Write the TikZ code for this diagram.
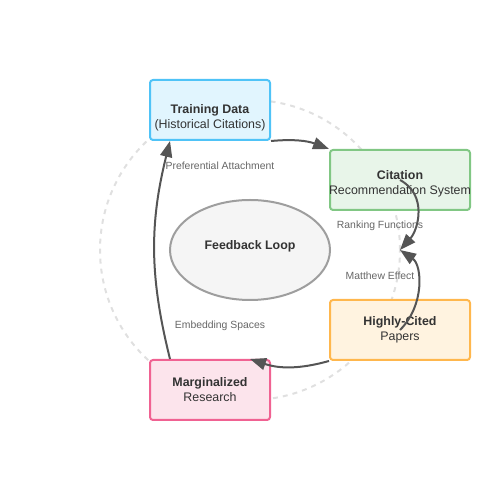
\documentclass[tikz,border=0pt]{standalone}
\usepackage{fontspec}
\setmainfont{Liberation Sans}
\usetikzlibrary{arrows.meta,shapes.geometric}
\definecolor{textdark}{HTML}{333333}
\definecolor{notegray}{HTML}{666666}
\definecolor{flowgray}{HTML}{555555}
\definecolor{ringgray}{HTML}{E0E0E0}
\definecolor{loopfill}{HTML}{F5F5F5}
\definecolor{loopdraw}{HTML}{9E9E9E}
\definecolor{trainfill}{HTML}{E1F5FE}
\definecolor{traindraw}{HTML}{4FC3F7}
\definecolor{citefill}{HTML}{E8F5E9}
\definecolor{citedraw}{HTML}{81C784}
\definecolor{papersfill}{HTML}{FFF3E0}
\definecolor{papersdraw}{HTML}{FFB74D}
\definecolor{margfill}{HTML}{FCE4EC}
\definecolor{margdraw}{HTML}{F06292}
\begin{document}
\begin{tikzpicture}[
        x=1pt, y=1pt,
        stage/.style={draw, rounded corners=3pt, line width=2pt, minimum width=120pt, minimum height=60pt},
        stagetext/.style={inner sep=0pt, align=center, text=textdark, font=\fontsize{12.4}{15}\selectfont},
        loop/.style={draw=loopdraw, fill=loopfill, ellipse, line width=2pt, minimum width=160pt,
            minimum height=100pt},
        flow/.style={-{Triangle[length=16pt,width=12pt]}, line width=2pt, draw=flowgray},
        note/.style={text=notegray, font=\fontsize{10.4}{12}\selectfont}
    ]
        \useasboundingbox (0,0) rectangle (500,500);
        % Background ring
        \draw[ringgray, line width=2pt, dash pattern=on 5pt off 5pt] (250,250) circle (150);
        % Feedback cycle stages
        \foreach \name/\pos/\boxw/\drop/\headline/\subline in {
            train/{210,390}/120/8/Training Data/(Historical Citations),
            cite/{400,320}/140/4/Citation/Recommendation System,
            papers/{400,170}/140/0/Highly-Cited/Papers,
            marg/{210,110}/120/0/Marginalized/Research}
        {
            \node[stage, minimum width=\boxw pt, draw=\name draw, fill=\name fill] (\name) at (\pos) {};
            \node[stagetext] (\name text) at ([yshift=-\drop pt]\name.center)
                {\textbf{\headline}\\\subline};
        }
        \node[loop] (loop) at (250,250) {};
        \node[stagetext, font=\fontsize{12.4}{15}\selectfont\bfseries] (looptext) at ([yshift=4pt]loop.center)
            {Feedback Loop};
        \coordinate (meet) at (400,250);
        % Mechanism labels
        \node[note] (attach) at (220,334) {Preferential Attachment};
        \node[note] (rank) at (380,274) {Ranking Functions};
        \node[note] (matthew) at (380,224) {Matthew Effect};
        \node[note] (embed) at (220,174) {Embedding Spaces};
        % Cycle arrows
        \draw[flow] (train.south east) to[bend left=13] (cite.north west);
        \draw[flow] (cite.center) .. controls (428,305) and (418,270) .. (meet);
        \draw[flow] (papers.center) .. controls (425,195) and (422,235) .. (meet);
        \draw[flow] (papers.south west) to[bend left=17] ([xshift=40pt]marg.north);
        \draw[flow] ([xshift=-40pt]marg.north) to[bend left=14] ([xshift=-40pt]train.south);
    \end{tikzpicture}
\end{document}
